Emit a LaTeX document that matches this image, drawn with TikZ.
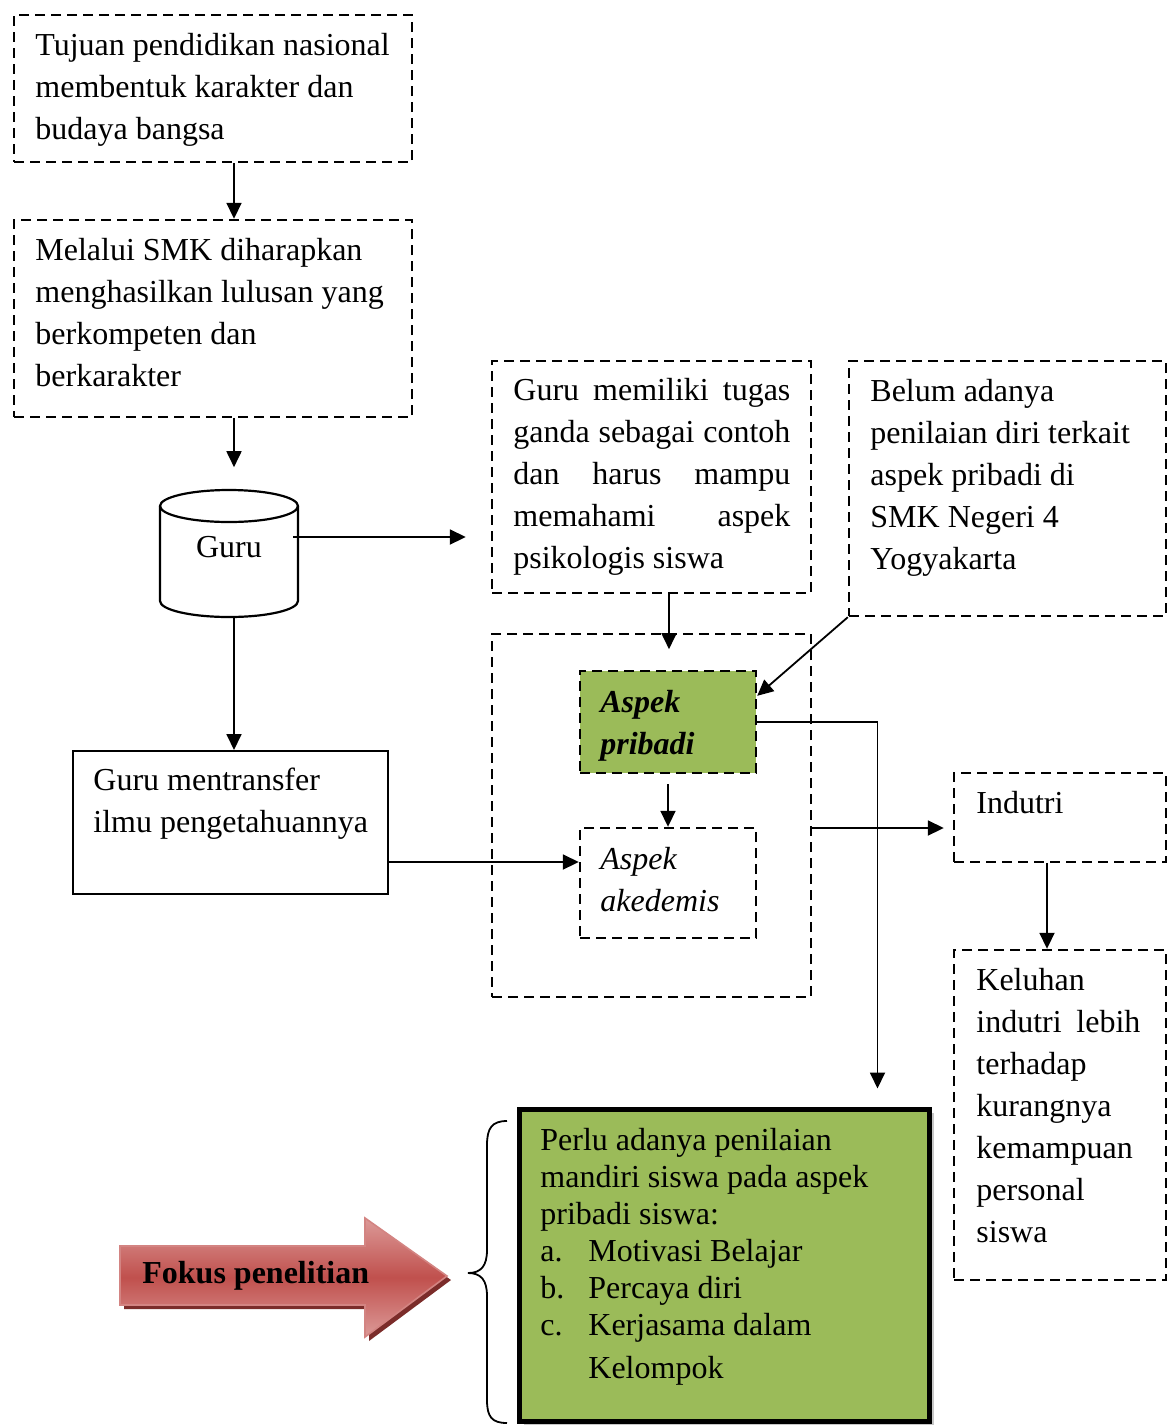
\documentclass[tikz,border=0pt]{standalone}
\usepackage{fontspec}
\setmainfont{Liberation Serif}
\usetikzlibrary{arrows.meta,fit,calc}
\definecolor{grn}{HTML}{9BBB59}
\definecolor{rd}{HTML}{C0504D}
\definecolor{rdl}{HTML}{DC9A98}
\definecolor{rdd}{HTML}{7B2C2A}
\begin{document}
\begin{tikzpicture}[x=0.5pt,y=-0.5pt,
  font=\fontsize{16pt}{21pt}\selectfont,
  dbox/.style={draw, line width=1.2pt, dash pattern=on 5pt off 3pt, inner sep=0pt},
  sbox/.style={draw, line width=1pt, inner sep=0pt},
  txt/.style={inner sep=0pt, anchor=base west},
  arr/.style={-{Triangle[length=8pt,width=7.5pt]}, line width=0.9pt},
  ]
\useasboundingbox (0,0) rectangle (1175,1425);

% boxes
\node[dbox, fit={(14,15)(412,162)}] (b1) {};
\node[txt] (t1) at (35,55) {\parbox[t]{200pt}{\raggedright Tujuan pendidikan nasional\\membentuk karakter dan\\budaya bangsa}};

\node[dbox, fit={(14,220)(412,417)}] (b2) {};
\node[txt] (t2) at (35,260) {\parbox[t]{200pt}{\raggedright Melalui SMK diharapkan\\menghasilkan lulusan yang\\berkompeten dan\\berkarakter}};

% cylinder
\node[inner sep=0pt, fit={(160,490)(298,617)}] (guru) {};
\draw[line width=1.1pt] (229,506) ellipse [x radius=34.5pt, y radius=8pt];
\draw[line width=1.1pt] (160,506) -- (160,601) arc[start angle=180, end angle=360, x radius=34.5pt, y radius=8pt] -- (298,506);
\node[inner sep=0pt, anchor=base] (tguru) at (229,557) {Guru};

\node[dbox, fit={(492,361)(811,593)}] (b5) {};
\node[txt] (t5) at (513,400) {\parbox[t]{138.5pt}{\makebox[\linewidth][s]{Guru memiliki tugas}\\\makebox[\linewidth][s]{ganda sebagai contoh}\\\makebox[\linewidth][s]{dan harus mampu}\\\makebox[\linewidth][s]{memahami aspek}\\psikologis siswa}};

\node[dbox, fit={(849,361)(1166,616)}] (b6) {};
\node[txt] (t6) at (870,401) {\parbox[t]{150pt}{\raggedright Belum adanya\\penilaian diri terkait\\aspek pribadi di\\SMK Negeri 4\\Yogyakarta}};

\node[dbox, fit={(492,634)(811,997)}] (ct) {};

\node[dbox, fill=grn, fit={(580,671)(756,773)}] (ap) {};
\node[txt] (tap) at (600,712) {\parbox[t]{80pt}{\raggedright\bfseries\itshape Aspek\\pribadi}};

\node[dbox, fit={(580,828)(756,938)}] (ak) {};
\node[txt] (tak) at (600,869) {\parbox[t]{80pt}{\raggedright\itshape Aspek\\akedemis}};

\node[sbox, fit={(73,751)(388,894)}] (mt) {};
\node[txt] (tmt) at (93,790) {\parbox[t]{160pt}{\raggedright Guru mentransfer\\ilmu pengetahuannya}};

\node[dbox, fit={(954,773)(1166,862)}] (ind) {};
\node[txt] (tind) at (976,813) {Indutri};

\node[dbox, fit={(954,950)(1166,1280)}] (kel) {};
\node[txt] (tkel) at (976,990) {\parbox[t]{82pt}{Keluhan\\\makebox[\linewidth][s]{indutri lebih}\\terhadap\\kurangnya\\kemampuan\\personal\\siswa}};

% final green box
\fill[black!22] (524,1113) rectangle (934,1425);
\node[draw, line width=2.5pt, fill=grn, inner sep=0pt, fit={(519,1109)(929,1421)}] (g) {};
\node[txt] (tg) at (540,1150) {\parbox[t]{200pt}{\raggedright\fontsize{16pt}{18.5pt}\selectfont Perlu adanya penilaian\\mandiri siswa pada aspek\\pribadi siswa:\\\makebox[24pt][l]{a.}Motivasi Belajar\\\makebox[24pt][l]{b.}Percaya diri\\\makebox[24pt][l]{c.}Kerjasama dalam\\[3pt]\hspace*{24pt}Kelompok}};

% brace
\draw[line width=0.9pt] (507,1121) .. controls (492,1121) and (487,1128) .. (487,1145) -- (487,1250) .. controls (487,1266) and (481,1273) .. (468,1273) .. controls (481,1273) and (487,1280) .. (487,1296) -- (487,1400) .. controls (487,1417) and (492,1423) .. (507,1423);

% red arrow
\fill[rdd] (124,1250) -- (369,1250) -- (369,1222) -- (451,1280) -- (369,1341) -- (369,1309) -- (124,1309) -- cycle;
\shade[top color=rdl, bottom color=rdl, middle color=rd, draw=rd!70!white, line width=0.8pt] (120,1246) -- (365,1246) -- (365,1218) -- (447,1276) -- (365,1337) -- (365,1305) -- (120,1305) -- cycle;
\node[txt] (fk) at (142,1283) {\bfseries Fokus penelitian};

% connectors
\coordinate (cx) at (234,0);
\draw[arr] (b1.south -| cx) -- (b2.north -| cx);
\draw[arr] (b2.south -| cx) -- ++(0,49);
\draw[arr] (guru.south -| cx) -- (mt.north -| cx);
\coordinate (ga) at (293,537);
\draw[arr, shorten >=12.5pt] (ga) -- (ga -| b5.west);
\coordinate (px) at (669,0);
\draw[arr] (b5.south -| px) -- ++(0,55);
\draw[arr] (b6.south west) -- ($(ap.north east)+(0,26)$);
\draw[arr] (ap.east) -| ($(g.north east)+(-54,-18)$);
\draw[arr] ([yshift=-5pt]ap.south) -- (ak.north);
\coordinate (ia) at (811,828);
\draw[arr, shorten >=4.5pt] (ia) -- (ia -| ind.west);
\coordinate (ma) at (388,862);
\draw[arr] (ma) -- (ma -| ak.west);
\coordinate (kx) at (1047,0);
\draw[arr] (ind.south -| kx) -- (kel.north -| kx);
\end{tikzpicture}
\end{document}
